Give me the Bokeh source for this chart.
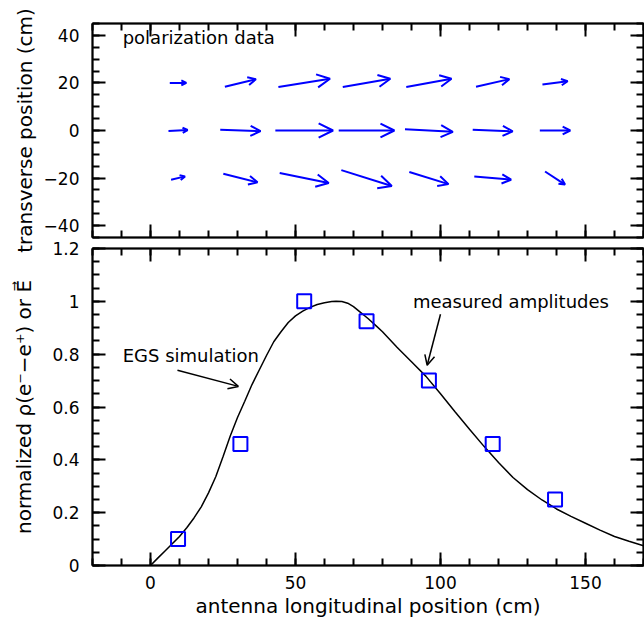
import math
from bokeh.plotting import figure
from bokeh.layouts import column
from bokeh.models import (Range1d, LinearAxis, SingleIntervalTicker, FixedTicker,
                          Arrow, OpenHead, CustomJSTickFormatter)
from bokeh.core.properties import value
from bokeh.embed import file_html
from bokeh.resources import INLINE

FONT = "DejaVu Sans"
BLUE = "#0000ff"

# ---------------- data ----------------
# antenna longitudinal positions (cm)
antenna_x = [9.5, 31, 53, 74.5, 96, 118, 139.5]
# measured normalized amplitudes
measured_amp = [0.10, 0.46, 1.00, 0.925, 0.70, 0.46, 0.25]

# transverse rows (cm)
row_y = [20, 0, -20]
# polarization vectors (drawn length in cm), per row
ex_top = [5.7, 10.7, 17.8, 16.4, 15.6, 11.5, 8.7]
ey_top = [0.0, 3.2, 3.5, 3.5, 3.5, 3.2, 1.4]
ex_mid = [6.6, 13.9, 19.9, 19.2, 16.5, 13.8, 10.5]
ey_mid = [0.4, -0.6, 0.0, 0.0, -1.1, -0.7, 0.0]
ex_bot = [4.8, 11.8, 16.9, 17.4, 13.5, 12.7, 6.9]
ey_bot = [1.4, -3.6, -4.2, -6.7, -5.1, -1.4, -5.5]

# EGS simulation curve
egs_x = [0, 2.5, 5, 7.5, 10, 12.5, 15, 17.5, 20, 22.5, 25, 27.5, 30, 32.5, 35,
         37.5, 40, 42.5, 45, 47.5, 50, 52.5, 55, 57.5, 60, 62.5, 64, 66, 68, 70,
         72, 75, 78, 80, 85, 90, 95, 100, 105, 110, 115, 120, 125, 130, 135,
         140, 145, 150, 155, 160, 165, 170]
egs_y = [0.0, 0.028, 0.055, 0.082, 0.11, 0.143, 0.18, 0.222, 0.275, 0.336,
         0.412, 0.49, 0.56, 0.622, 0.685, 0.74, 0.795, 0.847, 0.885, 0.92,
         0.945, 0.963, 0.977, 0.988, 0.995, 0.999, 1.0, 0.999, 0.993, 0.98,
         0.962, 0.935, 0.905, 0.885, 0.826, 0.771, 0.716, 0.65, 0.582, 0.516,
         0.451, 0.39, 0.333, 0.287, 0.248, 0.214, 0.186, 0.16, 0.134, 0.11,
         0.092, 0.075]

# tick labels
top_yticks = [-40, -20, 0, 20, 40]
top_ytick_labels = ["\u221240", "\u221220", "0", "20", "40"]
bot_yticks = [0, 0.2, 0.4, 0.6, 0.8, 1.0, 1.2]
bot_ytick_labels = ["0", "0.2", "0.4", "0.6", "0.8", "1", "1.2"]
bot_yminor = [0, 0.05, 0.1, 0.15, 0.2, 0.25, 0.3, 0.35, 0.4, 0.45, 0.5, 0.55,
              0.6, 0.65, 0.7, 0.75, 0.8, 0.85, 0.9, 0.95, 1.0, 1.05, 1.1, 1.15, 1.2]

# annotations
polar_label = ("polarization data", -9.6, 39.2)
egs_label = ("EGS simulation", -9.6, 0.795)
meas_label = ("measured amplitudes", 90.5, 1.0)
egs_arrow = (9.3, 0.739, 30.3, 0.678)
meas_arrow = (100.0, 0.951, 95.4, 0.758)

X_RANGE = (-20, 170)

# ---------------- helpers ----------------
def style_axis(ax, labels, label_standoff=13):
    ax.axis_line_width = 2
    ax.axis_line_color = "black"
    ax.major_tick_in = 13
    ax.major_tick_out = 0
    ax.minor_tick_in = 7
    ax.minor_tick_out = 0
    ax.major_tick_line_width = 2
    ax.minor_tick_line_width = 2
    ax.major_tick_line_color = "black"
    ax.minor_tick_line_color = "black"
    ax.major_label_text_font = FONT
    ax.major_label_text_color = "black"
    ax.axis_label_text_font = FONT
    ax.axis_label_text_font_size = "20px"
    ax.axis_label_text_font_style = "normal"
    ax.axis_label_text_color = "black"
    if labels:
        ax.major_label_text_font_size = "17px"
        ax.major_label_standoff = label_standoff
    else:
        ax.formatter = CustomJSTickFormatter(code="return ''")
        ax.major_label_text_font_size = "0px"
        ax.major_label_standoff = 0


def base_fig(height, y_range, tb, bb):
    p = figure(width=644, height=height, x_range=Range1d(*X_RANGE),
               y_range=Range1d(*y_range), output_backend="svg",
               toolbar_location=None, min_border_left=92, min_border_right=1,
               min_border_top=tb, min_border_bottom=bb)
    p.grid.visible = False
    p.outline_line_color = "black"
    p.outline_line_width = 1.5
    p.background_fill_color = "white"
    p.border_fill_color = None
    return p


x_ticker = lambda: SingleIntervalTicker(interval=50, num_minor_ticks=5)

# ---------------- top panel ----------------
p1 = base_fig(256, (-45, 45), 23, 19)
p1.xaxis.ticker = x_ticker()
style_axis(p1.xaxis[0], labels=False)
p1.yaxis.ticker = SingleIntervalTicker(interval=20, num_minor_ticks=4)
p1.yaxis.major_label_overrides = dict(zip(top_yticks, top_ytick_labels))
style_axis(p1.yaxis[0], labels=True)
p1.yaxis.axis_label = "transverse position (cm)"
p1.yaxis.axis_label_standoff = 4

ax = LinearAxis(ticker=x_ticker())
style_axis(ax, labels=False)
p1.add_layout(ax, "above")
ax = LinearAxis(ticker=SingleIntervalTicker(interval=20, num_minor_ticks=4))
style_axis(ax, labels=False)
p1.add_layout(ax, "right")

sx = 551 / (X_RANGE[1] - X_RANGE[0])
sy = 214 / 90.0
for yrow, exs, eys in ((row_y[0], ex_top, ey_top),
                       (row_y[1], ex_mid, ey_mid),
                       (row_y[2], ex_bot, ey_bot)):
    for xc, ex, ey in zip(antenna_x, exs, eys):
        lpx = math.hypot(ex * sx, ey * sy)
        hs = max(5.0, 0.25 * lpx)
        p1.add_layout(Arrow(
            end=OpenHead(size=hs, line_color=BLUE, line_width=2),
            x_start=xc - ex / 2, y_start=yrow - ey / 2,
            x_end=xc + ex / 2, y_end=yrow + ey / 2,
            line_color=BLUE, line_width=2))

p1.text(x=[polar_label[1]], y=[polar_label[2]], text=[polar_label[0]],
        text_font=value(FONT), text_font_size="18px", text_color="black",
        text_align="left", text_baseline="middle")

# ---------------- bottom panel ----------------
p2 = base_fig(383, (0, 1.2), 10, 56)
p2.margin = (-18, 0, 0, 0)
p2.xaxis.ticker = x_ticker()
style_axis(p2.xaxis[0], labels=True, label_standoff=10)
p2.xaxis.axis_label = "antenna longitudinal position (cm)"
p2.xaxis.axis_label_standoff = 2
p2.yaxis.ticker = FixedTicker(ticks=bot_yticks, minor_ticks=bot_yminor)
p2.yaxis.major_label_overrides = dict(zip(bot_yticks, bot_ytick_labels))
style_axis(p2.yaxis[0], labels=True)
p2.yaxis.axis_label = "normalized \u03c1(e\u207b\u2212e\u207a) or E\u20d7"
p2.yaxis.axis_label_standoff = 13

ax = LinearAxis(ticker=x_ticker())
style_axis(ax, labels=False)
p2.add_layout(ax, "above")
ax = LinearAxis(ticker=FixedTicker(ticks=bot_yticks, minor_ticks=bot_yminor))
style_axis(ax, labels=False)
p2.add_layout(ax, "right")

p2.line(egs_x, egs_y, line_color="black", line_width=1.5)
p2.scatter(antenna_x, measured_amp, marker="square", size=14,
           fill_color=None, line_color=BLUE, line_width=2)

p2.text(x=[egs_label[1], meas_label[1]], y=[egs_label[2], meas_label[2]],
        text=[egs_label[0], meas_label[0]],
        text_font=value(FONT), text_font_size="18px", text_color="black",
        text_align="left", text_baseline="middle")

for (x0, y0, x1, y1) in (egs_arrow, meas_arrow):
    p2.add_layout(Arrow(end=OpenHead(size=10, line_color="black", line_width=1.5),
                        x_start=x0, y_start=y0, x_end=x1, y_end=y1,
                        line_color="black", line_width=1.5))

layout = column(p1, p2, spacing=0)
open("out.html", "w").write(file_html(layout, INLINE))
